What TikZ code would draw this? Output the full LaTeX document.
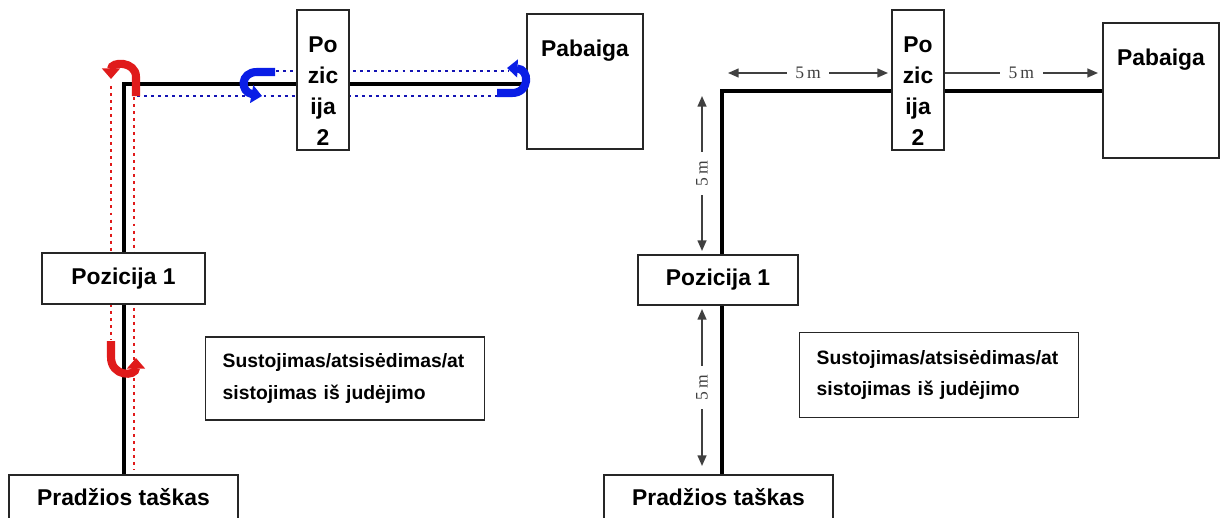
\documentclass[tikz,border=0pt]{standalone}
\usepackage{fontspec}
\setmainfont{Liberation Sans}
\newfontfamily\dimfont{Liberation Serif}
\usetikzlibrary{arrows.meta,positioning,calc,backgrounds}
\definecolor{boxline}{HTML}{262626}
\definecolor{walkred}{HTML}{E01B1B}
\definecolor{walkblue}{HTML}{1414B4}
\definecolor{turnblue}{HTML}{0A1EE6}
\definecolor{dimgray}{HTML}{404040}

\tikzset{
  box/.style={draw=boxline, line width=0.8pt, fill=white, inner sep=0pt,
    align=center, font=\fontsize{13}{17.8}\selectfont\bfseries},
  stopbox/.style={box, anchor=west, inner xsep=0.34cm, text width=4.9cm,
    align=left, minimum height=1.66cm, font=\fontsize{11}{18}\selectfont\bfseries},
  boxtext/.style={inner sep=0pt, align=center, font=\fontsize{13}{17.6}\selectfont\bfseries},
  route/.style={line width=2.6pt, black},
  reddots/.style={walkred, line width=1.7pt, dash pattern=on 1.7pt off 2.3pt},
  bluedots/.style={walkblue, line width=1.7pt, dash pattern=on 1.7pt off 2.3pt},
  turnred/.style={walkred, line width=4.6pt, -{Triangle[length=6pt,width=10pt]}},
  turnblu/.style={turnblue, line width=4.6pt, -{Triangle[length=6pt,width=10pt]}},
  dimline/.style={dimgray, line width=0.9pt},
  dimlabel/.style={fill=white, inner xsep=5pt, inner ysep=1pt, text=dimgray,
    font=\dimfont\fontsize{10}{12}\selectfont},
}

\begin{document}
\begin{tikzpicture}[x=0.02cm,y=-0.02cm]
\useasboundingbox (0,0) rectangle (1222,517);

% Left: boxes
\node[box, minimum width=1.04cm, minimum height=2.8cm] (pos2L) at (323,80) {};
\node[boxtext, below=0.54cm of pos2L.north] (pos2Ltxt) {Po\\zic\\ija\\2};
\node[box, minimum width=2.32cm, minimum height=2.7cm] (pabL) at (585,81.5) {};
\node[boxtext, below=0.52cm of pabL.north] (pabLtxt) {Pabaiga};
\node[box, minimum width=3.26cm, minimum height=1.02cm] (pos1L) at (123.5,278.5) {Pozicija 1};
\node[stopbox] (stopL) at (205,378.5) {Sustojimas/atsisėdimas/at\\sistojimas iš judėjimo};
\node[box, minimum width=4.58cm, minimum height=0.9cm] (startL) at (123.5,497.5) {Pradžios taškas};

% Left: route and walking lines
\coordinate (cornerL) at (124,84);
\begin{scope}[on background layer]
\draw[route] (startL.north -| cornerL) -- (cornerL) -- (cornerL -| pabL.west);
\draw[reddots] (111,86) -- (111,340);
\draw[reddots] (134,97) -- (134,470);
\draw[bluedots] (137,96) -- (497,96);
\draw[bluedots] (276,71) -- (508,71);
\end{scope}

% Left: turns
\draw[turnred] (136,96) -- (136,77) .. controls (136,61) and (111,61) .. (111,79);
\draw[turnred] (111,341) -- (111,357) .. controls (111,377) and (136,377) .. (136,358);
\draw[turnblu] (275,72) -- (257,72) .. controls (240,72) and (240,92) .. (262,96);
\draw[turnblu] (497,93) -- (512,93) .. controls (530,93) and (530,69) .. (507,68);

% Right: boxes
\node[box, minimum width=1.04cm, minimum height=2.8cm] (pos2R) at (918,80) {};
\node[boxtext, below=0.54cm of pos2R.north] (pos2Rtxt) {Po\\zic\\ija\\2};
\node[box, minimum width=2.32cm, minimum height=2.7cm] (pabR) at (1161,90.5) {};
\node[boxtext, below=0.52cm of pabR.north] (pabRtxt) {Pabaiga};
\node[box, minimum width=3.2cm, minimum height=1.0cm] (pos1R) at (718,280) {Pozicija 1};
\node[stopbox, minimum height=1.7cm] (stopR) at (799,375) {Sustojimas/atsisėdimas/at\\sistojimas iš judėjimo};
\node[box, minimum width=4.58cm, minimum height=0.9cm] (startR) at (718.5,497.5) {Pradžios taškas};

% Right: route
\coordinate (cornerR) at (722,91);
\begin{scope}[on background layer]
\draw[route] (startR.north -| cornerR) -- (cornerR) -- (cornerR -| pabR.west);
\end{scope}

% Right: distances
\coordinate (dimTa) at (728,73);
\coordinate (dimTb) at (888,73);
\coordinate (dimTc) at (1098,73);
\coordinate (dimVa) at (702,96);
\coordinate (dimVb) at (702,251);
\coordinate (dimVc) at (702,309);
\coordinate (dimVd) at (702,466);
\draw[dimline, {Triangle[length=6pt,width=5pt]}-{Triangle[length=6pt,width=5pt]}] (dimTa) -- node[dimlabel] (lblT1) {5\,m} (dimTb);
\draw[dimline, -{Triangle[length=6pt,width=5pt]}] (pos2R.east |- dimTa) -- node[dimlabel] (lblT2) {5\,m} (dimTc);
\draw[dimline, {Triangle[length=6pt,width=5pt]}-{Triangle[length=6pt,width=5pt]}] (dimVa) -- node[dimlabel, rotate=90] (lblV1) {5\,m} (dimVb);
\draw[dimline, {Triangle[length=6pt,width=5pt]}-{Triangle[length=6pt,width=5pt]}] (dimVc) -- node[dimlabel, rotate=90] (lblV2) {5\,m} (dimVd);
\end{tikzpicture}
\end{document}
